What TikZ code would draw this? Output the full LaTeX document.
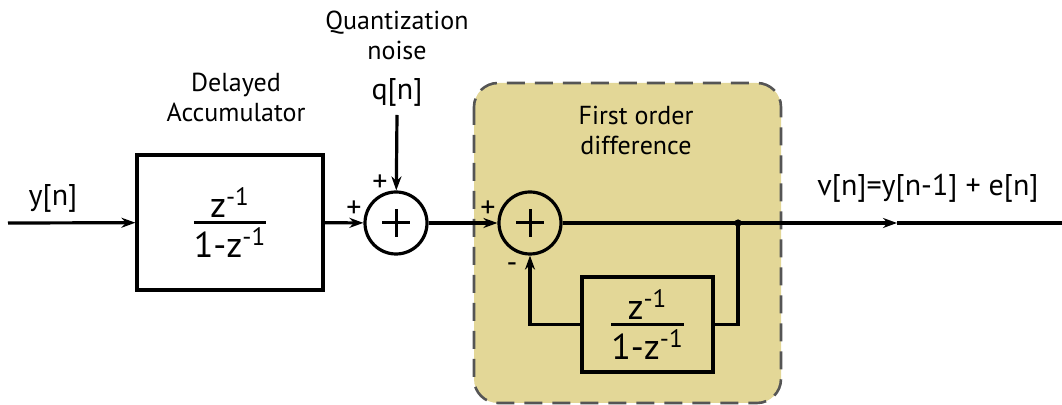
\documentclass[tikz,border=0pt]{standalone}
\usepackage{fontspec}
\setmainfont{PT Sans}
\usetikzlibrary{arrows.meta, positioning}
\definecolor{sand}{RGB}{227,215,151}
\definecolor{dashgray}{RGB}{85,85,85}
\tikzstyle{wire}   = [line width=1.6pt]
\tikzstyle{arrow}  = [line width=1.6pt, -{Stealth[length=7pt,width=5pt]}]
\tikzstyle{block}  = [draw, line width=1.6pt, inner sep=0pt, align=center]
\tikzstyle{adder}  = [draw, circle, line width=1.6pt, minimum size=31pt, inner sep=0pt,
  path picture={\draw[line width=1.5pt]
    ([xshift=-7pt]path picture bounding box.center) -- ([xshift=7pt]path picture bounding box.center)
    ([yshift=-7pt]path picture bounding box.center) -- ([yshift=7pt]path picture bounding box.center);}]
\tikzstyle{sign}   = [inner sep=0pt, font=\fontsize{15}{15}\selectfont]
\tikzstyle{tag}    = [align=center, inner sep=0pt, font=\fontsize{13}{15}\selectfont]
\tikzstyle{bigtag} = [align=center, inner sep=0pt, font=\fontsize{15}{18}\selectfont]
\newcommand{\zfrac}{\fontsize{18}{20}\selectfont$\mbox{z\textsuperscript{-1}}\above 1.6pt\mbox{1-z\textsuperscript{-1}}$}

\begin{document}
\begin{tikzpicture}[x=0.5pt, y=-0.5pt]
\useasboundingbox (0,0) rectangle (1062,405);

% first order difference region
\draw[line width=1.3pt, draw=dashgray, fill=sand, dash pattern=on 9pt off 5pt, rounded corners=12pt] (474,83) rectangle (781,403);

\node[bigtag] (ytxt)   at (53,198) {y[n]};
\coordinate   (yin)    at (8,223);
\node[block, minimum width=93pt, minimum height=67.5pt] (acc) at (230,222.5) {\zfrac};
\node[tag]    (acctxt) at (236,97) {Delayed\\Accumulator};

\node[adder]  (sum1)   at (396,223) {};
\node[tag]    (qntxt)  at (397,35) {Quantization\\noise};
\node[bigtag] (qtxt)   at (397,92) {q[n]};
\coordinate   (qin)    at (397,115);
\node[sign]   (s1a)    at (354,209) {+};
\node[sign]   (s1b)    at (380,183) {+};

\node[adder]  (sum2)   at (530,223) {};
\node[sign]   (s2a)    at (488,209) {+};
\node[sign]   (s2b)    at (512,268) {-};
\node[tag]    (fodtxt) at (636,130) {First order\\difference};
\node[block, minimum width=65.5pt, minimum height=47.5pt] (diff) at (647.5,324.5) {\zfrac};

\coordinate   (jn)     at (738,223);
\coordinate   (outarr) at (897,223);
\coordinate   (outend) at (1062,223);
\node[bigtag] (vtxt)   at (928,188) {v[n]=y[n-1] + e[n]};

\draw[arrow] (yin) -- (acc);
\draw[arrow] (acc) -- (sum1);
\draw[arrow] (qin) -- (sum1);
\draw[arrow] (sum1) -- (sum2);
\draw[arrow] (sum2) -- (outarr);
\draw[wire]  (outarr) -- (outend);
\draw[wire]  (jn) |- (diff);
\draw[arrow] (diff) -| (sum2);
\fill (jn) circle (1.8pt);

\end{tikzpicture}
\end{document}
